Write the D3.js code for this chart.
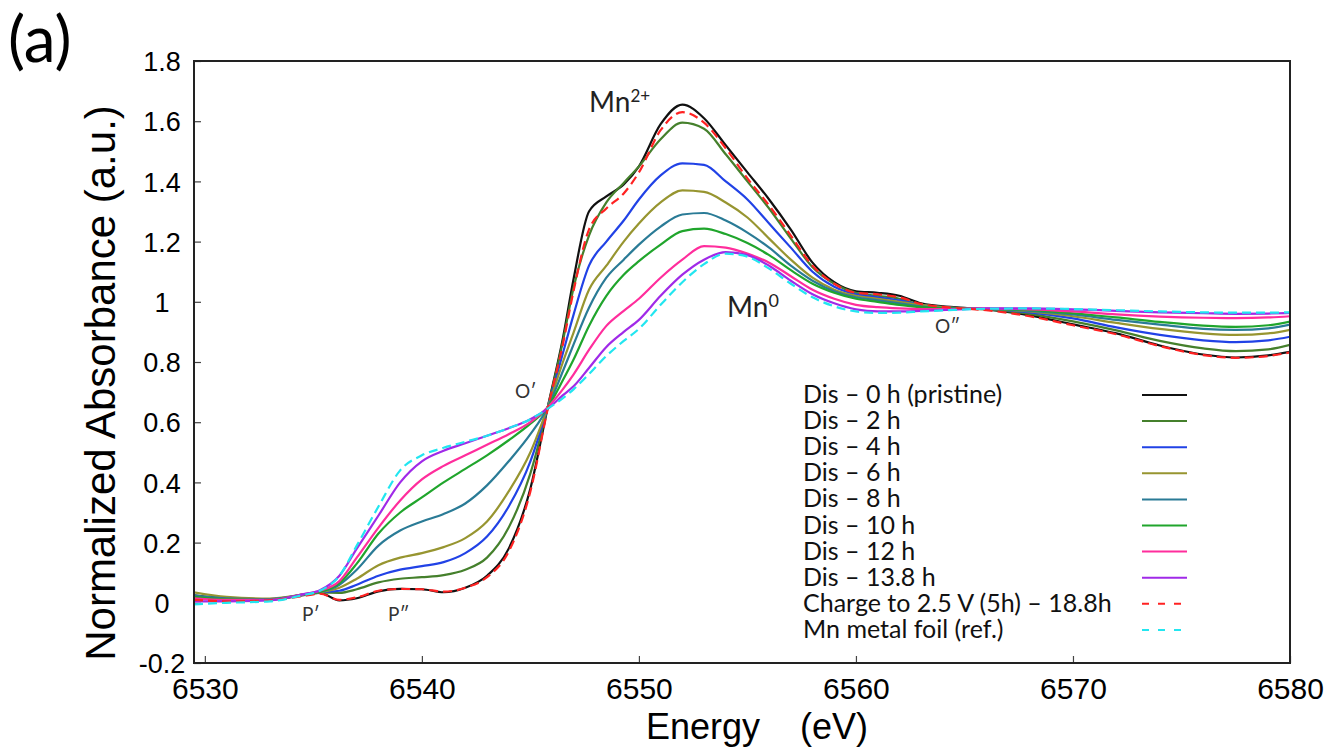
<!DOCTYPE html>
<html>
<head>
<meta charset="utf-8">
<script src="https://cdn.jsdelivr.net/npm/d3@7"></script>
<style>
  body { margin: 0; background: #fff; }
  svg { display: block; }
</style>
</head>
<body>
<svg id="chart"></svg>
<script>
// energy grid (eV) shared by all spectra
var energy = [6529.5, 6531, 6533, 6534.5, 6535.3, 6536.2, 6537, 6538, 6539, 6540,
  6541, 6542, 6543, 6544, 6545, 6545.8, 6546.5, 6547, 6547.7, 6548.5,
  6549.3, 6550, 6551, 6552, 6553, 6554, 6555, 6556, 6557, 6558,
  6559, 6560, 6561, 6562, 6563, 6564.5, 6566, 6568, 6570, 6572,
  6574, 6576, 6577.5, 6579, 6580];

var dis0 = [0.025, 0.015, 0.012, 0.025, 0.033, 0.008, 0.015, 0.038, 0.046, 0.045,
  0.035, 0.05, 0.09, 0.18, 0.38, 0.65, 0.88, 1.08, 1.30, 1.35,
  1.39, 1.45, 1.59, 1.655, 1.61, 1.52, 1.43, 1.34, 1.24, 1.13,
  1.065, 1.035, 1.03, 1.02, 0.995, 0.982, 0.975, 0.955, 0.925, 0.895,
  0.855, 0.825, 0.815, 0.822, 0.834];

var dis2 = [0.02, 0.012, 0.012, 0.025, 0.034, 0.033, 0.045, 0.068, 0.08, 0.085,
  0.092, 0.11, 0.15, 0.25, 0.43, 0.65, 0.87, 1.05, 1.22, 1.33,
  1.395, 1.45, 1.54, 1.595, 1.575, 1.49, 1.40, 1.31, 1.21, 1.115,
  1.06, 1.03, 1.02, 1.01, 0.99, 0.98, 0.975, 0.96, 0.935, 0.905,
  0.87, 0.845, 0.836, 0.842, 0.857];

var dis4 = [0.02, 0.01, 0.012, 0.026, 0.035, 0.04, 0.06, 0.09, 0.11, 0.122,
  0.135, 0.165, 0.22, 0.32, 0.47, 0.65, 0.83, 0.96, 1.12, 1.2,
  1.27, 1.34, 1.42, 1.46, 1.455, 1.40, 1.34, 1.26, 1.18, 1.10,
  1.05, 1.025, 1.015, 1.005, 0.99, 0.98, 0.976, 0.965, 0.945, 0.915,
  0.89, 0.872, 0.866, 0.872, 0.884];

var dis6 = [0.035, 0.02, 0.014, 0.027, 0.035, 0.05, 0.08, 0.125, 0.15, 0.165,
  0.185, 0.215, 0.27, 0.37, 0.5, 0.65, 0.8, 0.9, 1.04, 1.12,
  1.2, 1.26, 1.33, 1.37, 1.365, 1.33, 1.28, 1.21, 1.14, 1.08,
  1.04, 1.02, 1.01, 1.0, 0.99, 0.98, 0.976, 0.968, 0.952, 0.93,
  0.91, 0.895, 0.89, 0.895, 0.907];

var dis8 = [0.025, 0.015, 0.012, 0.027, 0.036, 0.06, 0.11, 0.19, 0.24, 0.27,
  0.295, 0.33, 0.39, 0.47, 0.56, 0.65, 0.77, 0.86, 0.98, 1.08,
  1.14, 1.19, 1.25, 1.29, 1.295, 1.27, 1.23, 1.18, 1.12, 1.07,
  1.035, 1.015, 1.005, 0.995, 0.985, 0.978, 0.976, 0.97, 0.958, 0.94,
  0.924, 0.91, 0.907, 0.912, 0.924];

var dis10 = [0.02, 0.012, 0.01, 0.027, 0.036, 0.065, 0.13, 0.23, 0.3, 0.35,
  0.4, 0.445, 0.49, 0.54, 0.595, 0.65, 0.74, 0.81, 0.92, 1.02,
  1.09, 1.135, 1.19, 1.235, 1.243, 1.225, 1.195, 1.155, 1.105, 1.06,
  1.03, 1.01, 1.0, 0.99, 0.982, 0.977, 0.976, 0.972, 0.962, 0.948,
  0.933, 0.921, 0.917, 0.922, 0.934];

var dis12 = [0.015, 0.01, 0.01, 0.028, 0.04, 0.072, 0.15, 0.25, 0.34, 0.41,
  0.455, 0.49, 0.525, 0.56, 0.6, 0.65, 0.71, 0.76, 0.84, 0.92,
  0.97, 1.01, 1.08, 1.14, 1.185, 1.18, 1.16, 1.13, 1.085, 1.04,
  1.01, 0.99, 0.982, 0.978, 0.976, 0.976, 0.978, 0.975, 0.968, 0.958,
  0.951, 0.947, 0.946, 0.948, 0.952];

var dis138 = [0.005, 0.005, 0.008, 0.028, 0.042, 0.09, 0.18, 0.29, 0.40, 0.47,
  0.505, 0.53, 0.555, 0.58, 0.61, 0.645, 0.69, 0.72, 0.78, 0.85,
  0.9, 0.94, 1.02, 1.09, 1.14, 1.165, 1.155, 1.12, 1.07, 1.025,
  0.995, 0.975, 0.968, 0.968, 0.97, 0.974, 0.978, 0.978, 0.975, 0.97,
  0.965, 0.962, 0.96, 0.961, 0.963];

var charge = [0.01, 0.005, 0.008, 0.022, 0.03, 0.01, 0.018, 0.04, 0.046, 0.045,
  0.037, 0.05, 0.085, 0.17, 0.37, 0.645, 0.86, 1.04, 1.24, 1.31,
  1.36, 1.43, 1.57, 1.63, 1.595, 1.51, 1.41, 1.32, 1.22, 1.12,
  1.06, 1.03, 1.025, 1.015, 0.993, 0.98, 0.972, 0.952, 0.922, 0.892,
  0.853, 0.823, 0.814, 0.82, 0.832];

var mnFoil = [-0.005, 0.0, 0.005, 0.025, 0.04, 0.09, 0.19, 0.32, 0.44, 0.49,
  0.515, 0.535, 0.555, 0.58, 0.61, 0.645, 0.68, 0.71, 0.76, 0.82,
  0.87, 0.91, 0.99, 1.065, 1.125, 1.16, 1.15, 1.11, 1.06, 1.015,
  0.985, 0.968, 0.963, 0.964, 0.968, 0.973, 0.977, 0.978, 0.976, 0.972,
  0.968, 0.965, 0.964, 0.964, 0.965];

var seriesNames = ["Dis \u2013 0 h (pristine)", "Dis \u2013 2 h", "Dis \u2013 4 h", "Dis \u2013 6 h",
  "Dis \u2013 8 h", "Dis \u2013 10 h", "Dis \u2013 12 h", "Dis \u2013 13.8 h",
  "Charge to 2.5 V (5h) \u2013 18.8h", "Mn metal foil (ref.)"];
var seriesValues = [dis0, dis2, dis4, dis6, dis8, dis10, dis12, dis138, charge, mnFoil];
var seriesColors = ["#111111", "#45802c", "#2142e6", "#979530", "#2a7b96",
  "#20a52c", "#ff2d9c", "#a02ae8", "#ff2222", "#22e6f0"];
var seriesDashed = [false, false, false, false, false, false, false, false, true, true];

var xTicks = [6530, 6540, 6550, 6560, 6570, 6580];
var yTicks = [-0.2, 0, 0.2, 0.4, 0.6, 0.8, 1, 1.2, 1.4, 1.6, 1.8];

var width = 1333;
var height = 750;
var plotL = 194, plotR = 1290, plotT = 61, plotB = 663;

var svg = d3.select("#chart")
  .attr("width", width)
  .attr("height", height);

var x = d3.scaleLinear().domain([6529.5, 6580]).range([plotL, plotR]);
var y = d3.scaleLinear().domain([-0.2, 1.8]).range([plotB, plotT]);

var data = seriesValues.map(function(vals, i) {
  return {
    name: seriesNames[i],
    color: seriesColors[i],
    dashed: seriesDashed[i],
    points: vals.map(function(v, j) { return { e: energy[j], v: v }; })
  };
});

// axes, ticks pointing inwards
var xAxis = svg.append("g")
  .attr("transform", "translate(0," + plotB + ")")
  .call(d3.axisBottom(x).tickValues(xTicks).tickSizeInner(-7).tickSizeOuter(0).tickFormat(d3.format("d")));
xAxis.select(".domain").remove();
xAxis.selectAll("line").attr("stroke", "#444").attr("stroke-width", 1.2);
xAxis.selectAll("text")
  .attr("y", 36)
  .attr("dy", 0)
  .attr("font-family", "'Liberation Sans', Arial, sans-serif")
  .attr("font-size", "30px")
  .attr("fill", "#000");

var yAxis = svg.append("g")
  .attr("transform", "translate(" + plotL + ",0)")
  .call(d3.axisLeft(y).tickValues(yTicks).tickSizeInner(-7).tickSizeOuter(0).tickFormat(function(d) {
    return String(Math.round(d * 10) / 10);
  }));
yAxis.select(".domain").remove();
yAxis.selectAll("line").attr("stroke", "#444").attr("stroke-width", 1.2);
yAxis.selectAll("text")
  .attr("x", -32)
  .attr("dy", "0.36em")
  .attr("text-anchor", "middle")
  .attr("font-family", "'Liberation Sans', Arial, sans-serif")
  .attr("font-size", "27px")
  .attr("fill", "#000");

// curves
var line = d3.line()
  .x(function(d) { return x(d.e); })
  .y(function(d) { return y(d.v); })
  .curve(d3.curveMonotoneX);

svg.append("clipPath").attr("id", "plotClip")
  .append("rect")
  .attr("x", plotL).attr("y", plotT)
  .attr("width", plotR - plotL).attr("height", plotB - plotT);

svg.append("g")
  .attr("clip-path", "url(#plotClip)")
  .selectAll("path")
  .data(data)
  .enter()
  .append("path")
  .attr("d", function(d) { return line(d.points); })
  .attr("fill", "none")
  .attr("stroke", function(d) { return d.color; })
  .attr("stroke-width", 2.2)
  .attr("stroke-dasharray", function(d) { return d.dashed ? "9,5" : null; });

// frame
svg.append("rect")
  .attr("x", plotL).attr("y", plotT)
  .attr("width", plotR - plotL).attr("height", plotB - plotT)
  .attr("fill", "none")
  .attr("stroke", "#222")
  .attr("stroke-width", 2);

// axis titles
svg.append("text")
  .attr("x", 757).attr("y", 739)
  .attr("text-anchor", "middle")
  .attr("font-family", "'Liberation Sans', Arial, sans-serif")
  .attr("font-size", "36px")
  .style("white-space", "pre")
  .text("Energy    (eV)");

svg.append("text")
  .attr("transform", "translate(115,383) rotate(-90)")
  .attr("text-anchor", "middle")
  .attr("font-family", "'Liberation Sans', Arial, sans-serif")
  .attr("font-size", "42px")
  .text("Normalized Absorbance (a.u.)");

svg.append("text")
  .attr("x", 8).attr("y", 62)
  .attr("font-family", "Lato, 'Open Sans', sans-serif")
  .attr("font-size", "64px")
  .text("(a)");

// peak / feature annotations
var mn2 = svg.append("text")
  .attr("x", 589).attr("y", 112)
  .attr("font-family", "Lato, sans-serif")
  .attr("font-size", "28px")
  .attr("fill", "#222");
mn2.append("tspan").text("Mn");
mn2.append("tspan").attr("dy", -10).attr("font-size", "17px").text("2+");

var mn0 = svg.append("text")
  .attr("x", 727).attr("y", 317)
  .attr("font-family", "Lato, sans-serif")
  .attr("font-size", "28px")
  .attr("fill", "#222");
mn0.append("tspan").text("Mn");
mn0.append("tspan").attr("dy", -10).attr("font-size", "18px").text("0");

var notes = [
  { t: "O\u2032", x: 515, y: 398 },
  { t: "O\u2033", x: 935, y: 333 },
  { t: "P\u2032", x: 302, y: 621 },
  { t: "P\u2033", x: 388, y: 621 }
];
svg.selectAll(".note")
  .data(notes)
  .enter()
  .append("text")
  .attr("class", "note")
  .attr("x", function(d) { return d.x; })
  .attr("y", function(d) { return d.y; })
  .attr("font-family", "Lato, sans-serif")
  .attr("font-size", "19px")
  .attr("fill", "#333")
  .text(function(d) { return d.t; });

// legend
var legend = svg.append("g");
var rowH = 26.1, firstRow = 403;
legend.selectAll("text")
  .data(data)
  .enter()
  .append("text")
  .attr("x", 803)
  .attr("y", function(d, i) { return firstRow + i * rowH; })
  .attr("font-family", "Lato, sans-serif")
  .attr("font-size", "25px")
  .attr("fill", "#111")
  .text(function(d) { return d.name; });
legend.selectAll("line")
  .data(data)
  .enter()
  .append("line")
  .attr("x1", 1142).attr("x2", 1187)
  .attr("y1", function(d, i) { return firstRow + i * rowH - 8; })
  .attr("y2", function(d, i) { return firstRow + i * rowH - 8; })
  .attr("stroke", function(d) { return d.color; })
  .attr("stroke-width", 2)
  .attr("stroke-dasharray", function(d) { return d.dashed ? "7,9" : null; });
</script>
</body>
</html>
